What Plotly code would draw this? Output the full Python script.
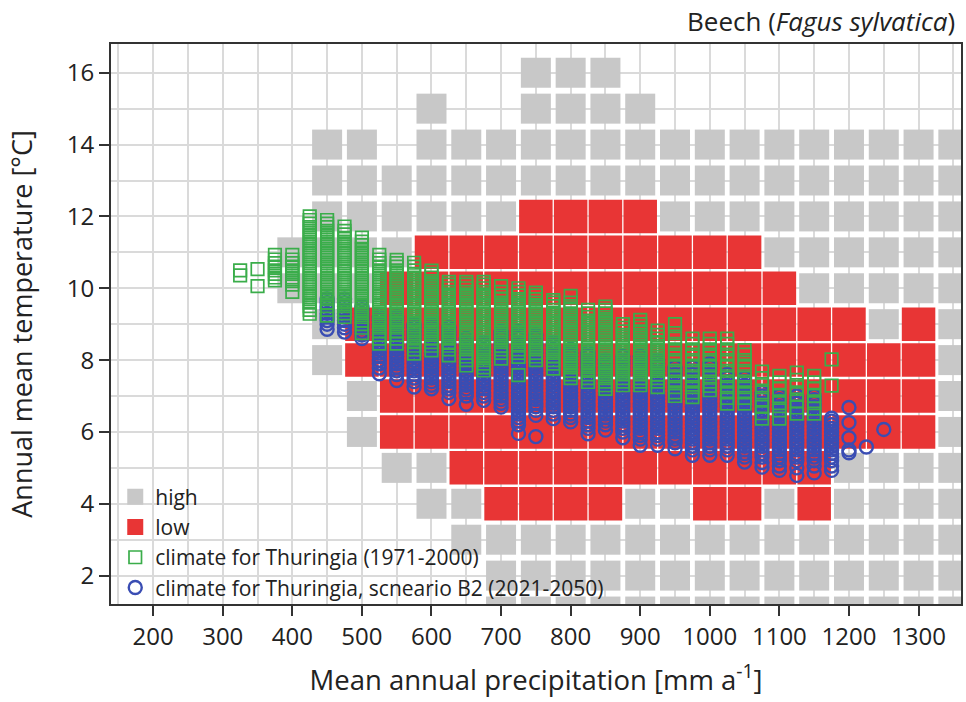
import plotly.graph_objects as go

# ---------------------------------------------------------------------------
# Suitability grid for beech: cells on a 50 mm x 1 degC lattice
# ---------------------------------------------------------------------------
grid_temps = [16, 15, 14, 13, 12, 11, 10, 9, 8, 7, 6, 5, 4, 3, 2, 1]

high_precip = [
    [750, 800, 850],
    [600, 750, 800, 850, 900],
    [450, 500, 600, 650, 700, 750, 800, 850, 900, 950, 1000, 1050, 1100, 1150, 1200, 1250, 1300, 1350],
    [450, 500, 550, 600, 650, 700, 750, 800, 850, 900, 950, 1000, 1050, 1100, 1150, 1200, 1250, 1300, 1350],
    [450, 500, 550, 600, 650, 700, 950, 1000, 1050, 1100, 1150, 1200, 1250, 1300, 1350],
    [400, 450, 500, 550, 1100, 1150, 1200, 1250, 1300, 1350],
    [400, 450, 500, 1150, 1200, 1250, 1300, 1350],
    [450, 1250, 1350],
    [450, 1350],
    [500, 1350],
    [500, 1350],
    [550, 600, 1200, 1250, 1300, 1350],
    [600, 650, 900, 950, 1100, 1200, 1250, 1300, 1350],
    [650, 700, 750, 800, 850, 900, 950, 1000, 1050, 1100, 1150, 1200, 1250, 1300, 1350],
    [700, 750, 800, 850, 900, 950, 1000, 1050, 1100, 1150, 1200, 1250, 1300, 1350],
    [700, 750, 800, 850, 900, 950, 1000, 1050, 1100, 1150, 1200, 1250, 1300, 1350],
]

low_precip = [
    [],
    [],
    [],
    [],
    [750, 800, 850, 900],
    [600, 650, 700, 750, 800, 850, 900, 950, 1000, 1050],
    [550, 600, 650, 700, 750, 800, 850, 900, 950, 1000, 1050, 1100],
    [500, 550, 600, 650, 700, 750, 800, 850, 900, 950, 1000, 1050, 1100, 1150, 1200, 1300],
    [500, 550, 600, 650, 700, 750, 800, 850, 900, 950, 1000, 1050, 1100, 1150, 1200, 1250, 1300],
    [550, 600, 650, 700, 750, 800, 850, 900, 950, 1000, 1050, 1100, 1150, 1200, 1250, 1300],
    [550, 600, 650, 700, 750, 800, 850, 900, 950, 1000, 1050, 1100, 1150, 1200, 1250, 1300],
    [650, 700, 750, 800, 850, 900, 950, 1000, 1050, 1100, 1150],
    [700, 750, 800, 850, 1000, 1050, 1150],
    [],
    [],
    [],
]

# ---------------------------------------------------------------------------
# Thuringia climate points, grouped by precipitation column (mm)
# ---------------------------------------------------------------------------
obs_precip = [325, 350, 375, 400, 425, 450, 475, 500, 525, 550, 575, 600, 625, 650,
              675, 700, 725, 750, 775, 800, 825, 850, 875, 900, 925, 950, 975, 1000,
              1025, 1050, 1075, 1100, 1125, 1150, 1175]
obs_temps = [
    [10.5, 10.36],
    [10.53, 10.06],
    [10.93, 10.8, 10.7, 10.6, 10.5, 10.4, 10.3, 10.22],
    [10.93, 10.8, 10.7, 10.6, 10.5, 10.4, 10.3, 10.2, 10.1, 9.9],
    [12.0, 11.9, 11.8, 11.7, 11.6, 11.5, 11.4, 11.3, 11.2, 11.1, 11.0, 10.9, 10.8, 10.7,
     10.6, 10.5, 10.4, 10.3, 10.2, 10.1, 10.0, 9.9, 9.8, 9.7, 9.6, 9.5, 9.4, 9.29],
    [11.9, 11.8, 11.7, 11.6, 11.5, 11.4, 11.3, 11.2, 11.1, 11.0, 10.9, 10.8, 10.7, 10.6,
     10.5, 10.4, 10.3, 10.2, 10.1, 10.0, 9.9, 9.8, 9.7, 9.6, 9.5, 9.4, 9.24],
    [11.72, 11.6, 11.5, 11.4, 11.3, 11.2, 11.1, 11.0, 10.9, 10.8, 10.7, 10.6, 10.5, 10.4,
     10.3, 10.2, 10.1, 10.0, 9.9, 9.8, 9.7, 9.6, 9.5, 9.4, 9.3, 9.2],
    [11.41, 11.3, 11.2, 11.1, 11.0, 10.9, 10.8, 10.7, 10.6, 10.5, 10.4, 10.3, 10.2, 10.1,
     10.0, 9.9, 9.8, 9.7, 9.6, 9.5, 9.4, 9.3, 9.2, 9.1, 9.0, 8.9, 8.75],
    [10.93, 10.8, 10.7, 10.6, 10.5, 10.4, 10.3, 10.2, 10.1, 10.0, 9.9, 9.8, 9.7, 9.6,
     9.5, 9.4, 9.3, 9.2, 9.1, 9.0, 8.9, 8.8, 8.7, 8.6, 8.46],
    [10.79, 10.7, 10.6, 10.5, 10.4, 10.3, 10.2, 10.1, 10.0, 9.9, 9.8, 9.7, 9.6, 9.5,
     9.4, 9.3, 9.2, 9.1, 9.0, 8.9, 8.8, 8.7, 8.6, 8.46],
    [10.71, 10.6, 10.5, 10.4, 10.3, 10.2, 10.1, 10.0, 9.9, 9.8, 9.7, 9.6, 9.5, 9.4,
     9.3, 9.2, 9.1, 9.0, 8.9, 8.8, 8.7, 8.6, 8.5, 8.4, 8.3, 8.18],
    [10.49, 10.4, 10.3, 10.2, 10.1, 10.0, 9.9, 9.8, 9.7, 9.6, 9.5, 9.4, 9.3, 9.2,
     9.1, 9.0, 8.9, 8.8, 8.7, 8.6, 8.5, 8.4, 8.27],
    [10.18, 10.1, 10.0, 9.9, 9.8, 9.7, 9.6, 9.5, 9.4, 9.3, 9.2, 9.1, 9.0, 8.9,
     8.8, 8.7, 8.6, 8.5, 8.4, 8.3, 8.13],
    [10.18, 10.1, 10.0, 9.9, 9.8, 9.7, 9.6, 9.5, 9.4, 9.3, 9.2, 9.1, 9.0, 8.9,
     8.8, 8.7, 8.6, 8.5, 8.4, 8.3, 8.2, 8.1, 8.0, 7.85],
    [10.18, 10.1, 10.0, 9.9, 9.8, 9.7, 9.6, 9.5, 9.4, 9.3, 9.2, 9.1, 9.0, 8.9,
     8.8, 8.7, 8.6, 8.5, 8.4, 8.3, 8.2, 8.1, 8.0, 7.9, 7.8, 7.71],
    [10.06, 9.9, 9.8, 9.7, 9.6, 9.5, 9.4, 9.3, 9.2, 9.1, 9.0, 8.9, 8.8, 8.7,
     8.6, 8.5, 8.4, 8.3, 8.2, 8.04],
    [10.0, 9.9, 9.8, 9.7, 9.6, 9.5, 9.4, 9.3, 9.2, 9.1, 9.0, 8.9, 8.8, 8.7,
     8.6, 8.5, 8.4, 8.3, 8.2, 8.09, 7.58],
    [9.88, 9.8, 9.7, 9.6, 9.5, 9.4, 9.3, 9.2, 9.1, 9.0, 8.9, 8.8, 8.7, 8.6,
     8.5, 8.4, 8.3, 8.2, 8.1, 8.0],
    [9.67, 9.6, 9.5, 9.4, 9.3, 9.2, 9.1, 9.0, 8.9, 8.8, 8.7, 8.6, 8.5, 8.4,
     8.3, 8.2, 8.1, 8.0, 7.9, 7.76],
    [9.79, 9.6, 9.5, 9.4, 9.3, 9.2, 9.1, 9.0, 8.9, 8.8, 8.7, 8.6, 8.5, 8.4,
     8.3, 8.2, 8.1, 8.0, 7.9, 7.8, 7.7, 7.6, 7.5],
    [9.4, 9.3, 9.2, 9.1, 9.0, 8.9, 8.8, 8.7, 8.6, 8.5, 8.4, 8.3, 8.2, 8.1,
     8.0, 7.9, 7.8, 7.7, 7.6, 7.5, 7.39],
    [9.49, 9.4, 9.3, 9.2, 9.1, 9.0, 8.9, 8.8, 8.7, 8.6, 8.5, 8.4, 8.3, 8.2,
     8.1, 8.0, 7.9, 7.8, 7.7, 7.6, 7.5, 7.4, 7.3, 7.2],
    [9.0, 8.9, 8.8, 8.7, 8.6, 8.5, 8.4, 8.3, 8.2, 8.1, 8.0, 7.9, 7.8, 7.7,
     7.6, 7.5, 7.4, 7.3],
    [9.12, 9.0, 8.9, 8.8, 8.7, 8.6, 8.5, 8.4, 8.3, 8.2, 8.1, 8.0, 7.9, 7.8,
     7.7, 7.6, 7.5, 7.4, 7.3],
    [8.82, 8.7, 8.6, 8.5, 8.4, 8.3, 8.2, 8.1, 8.0, 7.9, 7.8, 7.7, 7.6, 7.5,
     7.4, 7.25],
    [9.0, 8.75, 8.6, 8.45, 8.3, 8.15, 8.0, 7.85, 7.7, 7.55, 7.4, 7.25, 7.1, 7.0],
    [8.6, 8.45, 8.3, 8.15, 8.0, 7.85, 7.7, 7.55, 7.4, 7.25, 7.1, 6.97],
    [8.6, 8.45, 8.3, 8.15, 8.0, 7.85, 7.7, 7.55, 7.4, 7.28, 7.16],
    [8.6, 8.45, 8.3, 8.15, 8.0, 7.85, 7.7, 7.55, 7.4, 7.25, 7.1, 6.95, 6.79],
    [8.28, 8.15, 8.0, 7.85, 7.7, 7.55, 7.4, 7.25, 7.1, 6.95, 6.79],
    [7.68, 7.5, 7.3, 7.1, 6.9, 6.7, 6.52, 6.37],
    [7.56, 7.38, 7.2, 7.0, 6.8, 6.6, 6.37],
    [7.65, 7.45, 7.25, 7.05, 6.85, 6.68, 6.51],
    [7.56, 7.38, 7.2, 7.0, 6.8, 6.65, 6.51],
    [8.02, 7.29],
]

b2_precip = [450, 475, 500, 525, 550, 575, 600, 625, 650, 675, 700, 725, 750, 775,
             800, 825, 850, 875, 900, 925, 950, 975, 1000, 1025, 1050, 1075, 1100,
             1125, 1150, 1175, 1200, 1225, 1250]
b2_temps = [
    [9.7, 9.6, 9.5, 9.4, 9.3, 9.2, 9.1, 9.0, 8.86],
    [9.7, 9.6, 9.5, 9.4, 9.3, 9.2, 9.1, 9.0, 8.9, 8.78],
    [9.5, 9.4, 9.3, 9.2, 9.1, 9.0, 8.9, 8.8, 8.7, 8.6],
    [9.2, 9.1, 9.0, 8.9, 8.8, 8.7, 8.6, 8.5, 8.4, 8.3, 8.2, 8.1, 8.0, 7.9, 7.78, 7.62],
    [9.2, 9.1, 9.0, 8.9, 8.8, 8.7, 8.6, 8.5, 8.4, 8.3, 8.2, 8.1, 8.0, 7.9, 7.8, 7.7,
     7.6, 7.43],
    [9.0, 8.9, 8.8, 8.7, 8.6, 8.5, 8.4, 8.3, 8.2, 8.1, 8.0, 7.9, 7.8, 7.7, 7.6, 7.5,
     7.4, 7.25],
    [9.0, 8.9, 8.8, 8.7, 8.6, 8.5, 8.4, 8.3, 8.2, 8.1, 8.0, 7.9, 7.8, 7.7, 7.6, 7.5,
     7.4, 7.3, 7.2],
    [8.9, 8.8, 8.7, 8.6, 8.5, 8.4, 8.3, 8.2, 8.1, 8.0, 7.9, 7.8, 7.7, 7.6, 7.5, 7.4,
     7.3, 7.2, 7.1, 6.93],
    [8.6, 8.5, 8.4, 8.3, 8.2, 8.1, 8.0, 7.9, 7.8, 7.7, 7.6, 7.5, 7.4, 7.3, 7.2, 7.1,
     7.0, 6.77],
    [8.5, 8.4, 8.3, 8.2, 8.1, 8.0, 7.9, 7.8, 7.7, 7.6, 7.5, 7.4, 7.3, 7.2, 7.1, 7.0,
     6.88],
    [8.8, 8.7, 8.6, 8.5, 8.4, 8.3, 8.2, 8.1, 8.0, 7.9, 7.8, 7.7, 7.6, 7.5, 7.4, 7.3,
     7.2, 7.1, 7.0, 6.9, 6.8, 6.69],
    [8.8, 8.7, 8.6, 8.5, 8.4, 8.3, 8.2, 8.1, 8.0, 7.9, 7.8, 7.7, 7.6, 7.5, 7.4, 7.3,
     7.2, 7.1, 7.0, 6.9, 6.8, 6.7, 6.6, 6.5, 6.4, 6.3, 6.2, 5.96],
    [8.7, 8.6, 8.5, 8.4, 8.3, 8.2, 8.1, 8.0, 7.9, 7.8, 7.7, 7.6, 7.5, 7.4, 7.3, 7.2,
     7.1, 7.0, 6.9, 6.8, 6.7, 6.6, 6.46, 5.87],
    [8.5, 8.4, 8.3, 8.2, 8.1, 8.0, 7.9, 7.8, 7.7, 7.6, 7.5, 7.4, 7.3, 7.2, 7.1, 7.0,
     6.9, 6.8, 6.7, 6.6, 6.5, 6.37],
    [8.3, 8.2, 8.1, 8.0, 7.9, 7.8, 7.7, 7.6, 7.5, 7.4, 7.3, 7.2, 7.1, 7.0, 6.9, 6.8,
     6.7, 6.6, 6.5, 6.4, 6.28],
    [8.2, 8.1, 8.0, 7.9, 7.8, 7.7, 7.6, 7.5, 7.4, 7.3, 7.2, 7.1, 7.0, 6.9, 6.8, 6.7,
     6.6, 6.5, 6.4, 6.3, 6.2, 6.1, 5.95],
    [8.0, 7.9, 7.8, 7.7, 7.6, 7.5, 7.4, 7.3, 7.2, 7.1, 7.0, 6.9, 6.8, 6.7, 6.6, 6.5,
     6.4, 6.3, 6.2, 6.05],
    [8.1, 8.0, 7.9, 7.8, 7.7, 7.6, 7.5, 7.4, 7.3, 7.2, 7.1, 7.0, 6.9, 6.8, 6.7, 6.6,
     6.5, 6.4, 6.3, 6.2, 6.1, 6.0, 5.84],
    [8.1, 8.0, 7.9, 7.8, 7.7, 7.6, 7.5, 7.4, 7.3, 7.2, 7.1, 7.0, 6.9, 6.8, 6.7, 6.6,
     6.5, 6.4, 6.3, 6.2, 6.1, 6.0, 5.9, 5.8, 5.63],
    [8.0, 7.9, 7.8, 7.7, 7.6, 7.5, 7.4, 7.3, 7.2, 7.1, 7.0, 6.9, 6.8, 6.7, 6.6, 6.5,
     6.4, 6.3, 6.2, 6.1, 6.0, 5.9, 5.8, 5.63],
    [7.8, 7.7, 7.6, 7.5, 7.4, 7.3, 7.2, 7.1, 7.0, 6.9, 6.8, 6.7, 6.6, 6.5, 6.4, 6.3,
     6.2, 6.1, 6.0, 5.9, 5.8, 5.7, 5.53],
    [7.8, 7.7, 7.6, 7.5, 7.4, 7.3, 7.2, 7.1, 7.0, 6.9, 6.8, 6.7, 6.6, 6.5, 6.4, 6.3,
     6.2, 6.1, 6.0, 5.9, 5.8, 5.7, 5.6, 5.5, 5.35],
    [7.9, 7.8, 7.7, 7.6, 7.5, 7.4, 7.3, 7.2, 7.1, 7.0, 6.9, 6.8, 6.7, 6.6, 6.5, 6.4,
     6.3, 6.2, 6.1, 6.0, 5.9, 5.8, 5.7, 5.6, 5.5, 5.35],
    [7.6, 7.5, 7.4, 7.3, 7.2, 7.1, 7.0, 6.9, 6.8, 6.7, 6.6, 6.5, 6.4, 6.3, 6.2, 6.1,
     6.0, 5.9, 5.8, 5.7, 5.6, 5.5, 5.35],
    [7.5, 7.4, 7.3, 7.2, 7.1, 7.0, 6.9, 6.8, 6.7, 6.6, 6.5, 6.4, 6.3, 6.2, 6.1, 6.0,
     5.9, 5.8, 5.7, 5.6, 5.5, 5.4, 5.3, 5.16],
    [7.1, 7.0, 6.9, 6.8, 6.7, 6.6, 6.5, 6.4, 6.3, 6.2, 6.1, 6.0, 5.9, 5.8, 5.7, 5.6,
     5.5, 5.4, 5.3, 5.15, 5.02],
    [7.0, 6.9, 6.8, 6.7, 6.6, 6.5, 6.4, 6.3, 6.2, 6.1, 6.0, 5.9, 5.8, 5.7, 5.6, 5.5,
     5.4, 5.3, 5.2, 5.05, 4.93],
    [7.0, 6.9, 6.8, 6.7, 6.6, 6.5, 6.4, 6.3, 6.2, 6.1, 6.0, 5.9, 5.8, 5.7, 5.6, 5.5,
     5.4, 5.3, 5.2, 5.0, 4.79],
    [7.0, 6.9, 6.8, 6.7, 6.6, 6.5, 6.4, 6.3, 6.2, 6.1, 6.0, 5.9, 5.8, 5.7, 5.6, 5.5,
     5.4, 5.3, 5.2, 5.05, 4.86],
    [6.38, 6.3, 6.2, 6.1, 6.0, 5.9, 5.8, 5.7, 5.6, 5.5, 5.4, 5.3, 5.2, 5.05, 4.93],
    [6.68, 6.26, 5.84, 5.5, 5.42],
    [5.58],
    [6.07],
]

x_ticks = [200, 300, 400, 500, 600, 700, 800, 900, 1000, 1100, 1200, 1300]
y_ticks = [2, 4, 6, 8, 10, 12, 14, 16]


def flatten_rows(rows, keys):
    xs, ys = [], []
    for key, vals in zip(keys, rows):
        for v in vals:
            xs.append(v)
            ys.append(key)
    return xs, ys


def flatten_columns(cols, temps):
    xs, ys = [], []
    for p, ts in zip(cols, temps):
        for t in ts:
            xs.append(p)
            ys.append(t)
    return xs, ys


hx, hy = flatten_rows(high_precip, grid_temps)
lx, ly = flatten_rows(low_precip, grid_temps)
ox, oy = flatten_columns(obs_precip, obs_temps)
bx, by = flatten_columns(b2_precip, b2_temps)

FONT = "Open Sans"
TEXT = "#222222"

fig = go.Figure()
fig.add_trace(go.Scatter(
    x=hx, y=hy, mode="markers", name="high", legendrank=1,
    marker=dict(symbol="square", size=30, color="#c8c8c8", line=dict(width=0)),
))
fig.add_trace(go.Scatter(
    x=lx, y=ly, mode="markers", name="low", legendrank=2,
    marker=dict(symbol="square", size=33.5, color="#e83535", line=dict(width=0)),
))
fig.add_trace(go.Scatter(
    x=bx, y=by, mode="markers", name="climate for Thuringia, scneario B2 (2021-2050)",
    legendrank=4,
    marker=dict(symbol="circle-open", size=13, color="#3a4db3", line=dict(width=2.4)),
))
fig.add_trace(go.Scatter(
    x=ox, y=oy, mode="markers", name="climate for Thuringia (1971-2000)",
    legendrank=3,
    marker=dict(symbol="square-open", size=12.5, color="#3aad4a", line=dict(width=1.7)),
))

grid_color = "#dadada"
fig.update_xaxes(
    range=[139.4, 1361], tickvals=x_ticks, ticks="outside", ticklen=10, tickwidth=1.5,
    tickcolor="#333", showgrid=True, gridcolor=grid_color, gridwidth=2,
    minor=dict(dtick=50, tick0=0, showgrid=True, gridcolor=grid_color, gridwidth=2),
    showline=True, linecolor="#333", linewidth=2, mirror=True, zeroline=False,
    tickfont=dict(family=FONT, size=24, color=TEXT),
    title=dict(text="Mean annual precipitation [mm a<sup>-1</sup>]",
               font=dict(family=FONT, size=27.5, color=TEXT), standoff=20),
)
fig.update_yaxes(
    range=[1.21, 16.8], tickvals=y_ticks, ticks="outside", ticklen=10, tickwidth=1.5,
    tickcolor="#333", showgrid=True, gridcolor=grid_color, gridwidth=2,
    minor=dict(dtick=1, tick0=0, showgrid=True, gridcolor=grid_color, gridwidth=2),
    showline=True, linecolor="#333", linewidth=2, mirror=True, zeroline=False,
    tickfont=dict(family=FONT, size=24, color=TEXT),
    title=dict(text="Annual mean temperature [°C]",
               font=dict(family=FONT, size=27, color=TEXT), standoff=26),
)

fig.update_layout(
    width=966, height=702,
    margin=dict(l=111, r=3, t=44, b=98),
    paper_bgcolor="white", plot_bgcolor="white",
    font=dict(family=FONT, color=TEXT),
    legend=dict(
        x=0.005, y=-0.008, xanchor="left", yanchor="bottom",
        bgcolor="rgba(0,0,0,0)", font=dict(family=FONT, size=21, color=TEXT),
        itemsizing="trace", tracegroupgap=0,
    ),
    annotations=[dict(
        text="Beech (<i>Fagus sylvatica</i>)", xref="paper", yref="paper",
        x=1, y=1, xanchor="right", yanchor="bottom", yshift=3, xshift=-4,
        showarrow=False, font=dict(family=FONT, size=26, color=TEXT),
    )],
)

fig.write_html("out.html")
